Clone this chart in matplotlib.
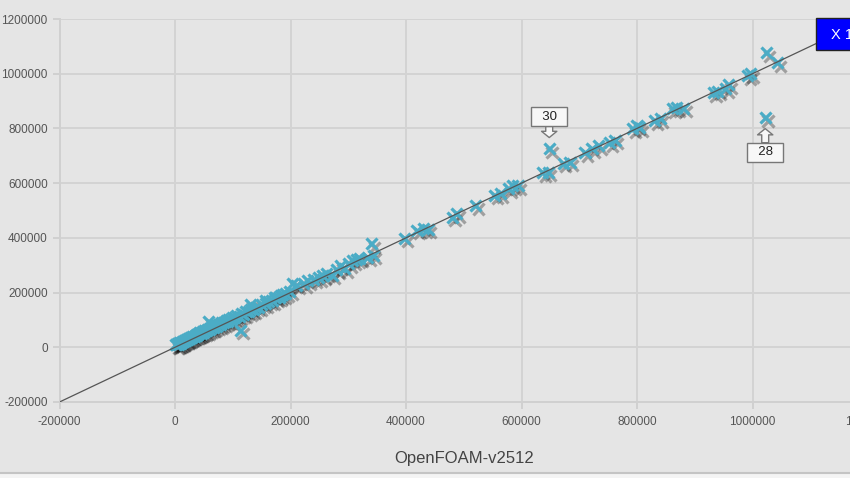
import numpy as np
import matplotlib
matplotlib.use('Agg')
import matplotlib.pyplot as plt
import matplotlib.patheffects as pe
from matplotlib.patches import Rectangle
from matplotlib.ticker import FuncFormatter

plt.rcParams['font.family'] = ['Liberation Sans', 'DejaVu Sans']

# values in thousands, x = OpenFOAM-v2512, y = compared build
x_dense = [1, 3, 4, 6, 8, 9, 11, 13, 14, 16, 18, 20, 21, 23, 25, 27, 29, 31, 33, 35,
           37, 39, 41, 43, 45, 47, 49, 52, 54, 57, 60, 63, 66, 69, 72, 75, 78, 81, 84, 87,
           90, 93, 96, 99, 103, 107, 111, 115, 119, 123, 127, 131, 135, 140, 145, 150,
           156, 162, 168, 174, 180, 186, 192, 198]
y_dense = [9, 10, 13, 12, 17, 15, 19, 22, 20, 25, 26, 30, 27, 32, 33, 36, 37, 41, 40, 44,
           45, 48, 49, 53, 52, 57, 56, 61, 60, 66, 67, 71, 72, 77, 78, 84, 83, 89, 90, 95,
           96, 101, 100, 107, 108, 115, 114, 122, 121, 131, 130, 138, 137, 147, 146, 157,
           159, 168, 170, 181, 183, 192, 197, 205]

x_mid = [58, 113, 130, 156, 173, 182, 204, 211, 222, 230, 240, 248, 256, 263, 272, 280,
         286, 294, 301, 308, 315, 320, 333, 341, 343]
y_mid = [94, 62, 158, 172, 183, 190, 234, 226, 232, 243, 248, 254, 262, 270, 263, 284,
         297, 288, 306, 316, 322, 325, 329, 378, 336]

x_high = [398, 419, 430, 438, 480, 488, 520, 554, 563, 577, 585, 594, 637, 646, 672, 684,
          710, 722, 733, 753, 762, 792, 800, 805, 831, 840, 861, 869, 880, 932, 940, 953,
          958, 992, 996, 1025, 1043, 648, 1022]
y_high = [398, 427, 434, 432, 475, 489, 518, 555, 562, 580, 591, 590, 639, 640, 672, 676,
          712, 726, 737, 748, 756, 799, 810, 803, 829, 836, 872, 876, 874, 931, 936, 945,
          960, 993, 1000, 1077, 1040, 726, 840]

callouts = [('30', 648, 726, 32), ('28', 1022, 840, -35)]

xs = np.array(x_dense + x_mid + x_high) * 1000
ys = np.array(y_dense + y_mid + y_high) * 1000

W, H = 850, 478
fig = plt.figure(figsize=(8.5, 4.78), dpi=100, facecolor='#e5e5e5')
ax = fig.add_axes([59.5 / W, 1 - 402 / H, (868 - 59.5) / W, (402 - 19) / H])
ax.set_facecolor('#e5e5e5')

ax.set_xlim(-200000, 1200000)
ax.set_ylim(-200000, 1200000)
ticks = np.arange(-200000, 1200001, 200000)
ax.set_xticks(ticks)
ax.set_yticks(ticks)
fmt = FuncFormatter(lambda v, p: f'{int(v)}')
ax.xaxis.set_major_formatter(fmt)
ax.yaxis.set_major_formatter(fmt)
ax.grid(True, color='#d3d3d3', linewidth=1.4, zorder=0)
ax.set_axisbelow(True)
for s in ['top', 'right']:
    ax.spines[s].set_visible(False)
for s in ['left', 'bottom']:
    ax.spines[s].set_color('#d0d0d0')
    ax.spines[s].set_linewidth(1.4)
ax.tick_params(length=5, width=1.2, color='#cccccc', labelcolor='#555555',
               labelsize=8.5, pad=3.5)
ax.tick_params(axis='x', pad=5)

ax.plot(xs, ys, linestyle='none', marker='x', markersize=8, mew=2.3,
        color='#4bacc6', zorder=2,
        path_effects=[pe.SimpleLineShadow(offset=(2, -2.5), shadow_color='black', alpha=0.3),
                      pe.Normal()])
ax.plot([-200000, 1200000], [-200000, 1200000], color='#555555', linewidth=0.9, zorder=3)

for label, px, py, dy in callouts:
    ax.annotate(f'  {label}  ', xy=(px * 1000, py * 1000), xytext=(0, dy),
                textcoords='offset pixels', ha='center', va='center', fontsize=9.5,
                color='#222222', zorder=5,
                bbox=dict(boxstyle='square,pad=0.25', fc='#f7f7f7', ec='#777777', lw=1),
                arrowprops=dict(arrowstyle='simple,head_length=0.45,head_width=1.1,tail_width=0.5',
                                mutation_scale=10, fc='#f7f7f7', ec='#777777', lw=1,
                                shrinkA=0, shrinkB=8))

ax.set_xlabel('OpenFOAM-v2512', fontsize=12, color='#444444', va='center')
ax.xaxis.set_label_coords(0.5, -(458 - 402) / (402 - 19))

# blue box at top right
fig.patches.append(Rectangle((816 / W, 1 - 50 / H), 60 / W, 32 / H, transform=fig.transFigure,
                             facecolor='#0000ff', edgecolor='#222222', lw=1, zorder=10))
fig.text(831 / W, 1 - 35 / H, 'X 1:1', color='white', fontsize=10.5, va='center', ha='left',
         zorder=11)

# bottom border
fig.patches.append(Rectangle((0, 0), 1, 4 / H, transform=fig.transFigure,
                             facecolor='#f4f4f4', edgecolor='none', zorder=9))
fig.lines.append(plt.Line2D([0, 1], [5 / H, 5 / H], transform=fig.transFigure,
                            color='#c4c4c4', linewidth=1.5, zorder=10))

fig.savefig('out.png', dpi=100, facecolor=fig.get_facecolor())
